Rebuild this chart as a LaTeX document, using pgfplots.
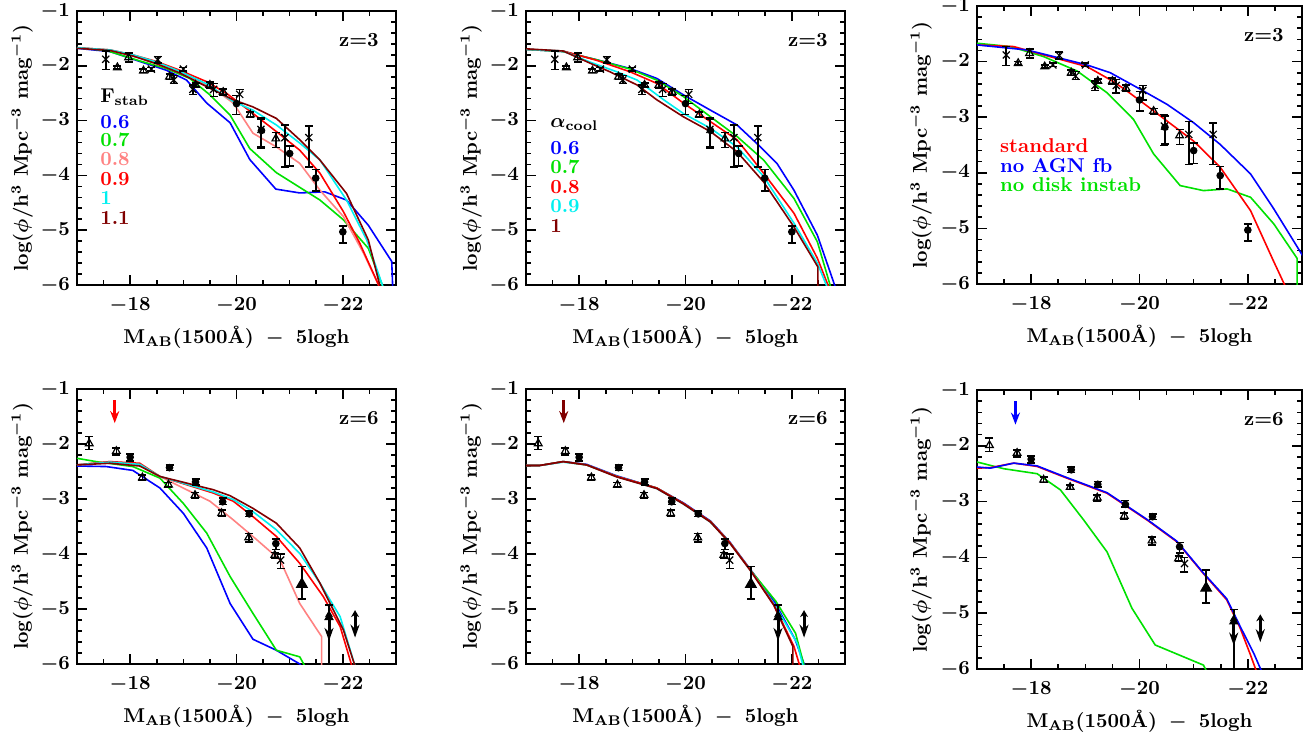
\documentclass[border=0pt]{standalone}
\usepackage{fontspec}
\usepackage{pgfplots}
\usepackage{pgfplotstable}
\pgfplotsset{compat=1.18}
\usetikzlibrary{arrows.meta}
\definecolor{cblue}{RGB}{0,0,255}
\definecolor{cgreen}{RGB}{0,225,0}
\definecolor{csalmon}{RGB}{255,130,130}
\definecolor{cred}{RGB}{255,0,0}
\definecolor{ccyan}{RGB}{0,240,240}
\definecolor{cbrown}{RGB}{128,0,0}

% z=3 observational data: x y err+ err-
\pgfplotstableread{
x y ep em
-17.54 -1.88 0.15 0.19
-18.40 -2.06 0.03 0.03
-18.52 -1.89 0.06 0.06
-18.82 -2.26 0.08 0.06
-19.00 -2.06 0.03 0.03
-19.18 -2.43 0.08 0.09
-19.57 -2.43 0.11 0.13
-20.06 -2.52 0.09 0.17
-20.46 -3.16 0.21 0.35
-20.91 -3.31 0.23 0.54
-21.36 -3.31 0.21 0.54
}\obsThreeX
\pgfplotstableread{
x y ep em
-17.76 -2.03 0.03 0.03
-17.97 -1.85 0.08 0.08
-18.25 -2.09 0.03 0.03
-18.74 -2.20 0.05 0.05
-19.23 -2.35 0.04 0.04
-19.50 -2.35 0.05 0.05
-19.75 -2.48 0.06 0.06
-20.26 -2.89 0.05 0.05
-20.74 -3.33 0.11 0.16
}\obsThreeT
\pgfplotstableread{
x y ep em
-20.00 -2.69 0.15 0.20
-20.47 -3.18 0.20 0.30
-21.00 -3.60 0.14 0.23
-21.49 -4.05 0.16 0.24
-22.00 -5.03 0.11 0.20
}\obsThreeC
% z=6 observational data
\pgfplotstableread{
x y ep em
-17.23 -1.99 0.13 0.11
-17.74 -2.13 0.06 0.07
-18.23 -2.61 0.05 0.05
-18.72 -2.74 0.04 0.04
-19.22 -2.93 0.05 0.06
-19.72 -3.26 0.06 0.06
-20.23 -3.70 0.07 0.08
-20.72 -4.02 0.05 0.05
}\obsSixT
\pgfplotstableread{
x y ep em
-18.00 -2.24 0.06 0.07
-18.74 -2.43 0.05 0.05
-19.23 -2.69 0.05 0.05
-19.74 -3.05 0.07 0.05
-20.24 -3.27 0.05 0.05
-20.74 -3.81 0.08 0.11
}\obsSixC
\pgfplotstableread{
x y ep em
-20.83 -4.11 0.11 0.15
}\obsSixX
\pgfplotstableread{
x y ep em
-21.23 -4.55 0.32 0.27
}\obsSixF
\pgfplotstableread{
x y ep em
-21.74 -5.15 0.22 0.90
}\obsSixL
\pgfplotstableread{
x y u v
-21.74 -5.02 0 -0.56
-22.23 -5.02 0 -0.50
}\obsSixArrows
\pgfplotstableread{
x y u v
-17.71 -1.20 0 -0.42
}\resArrow

\pgfplotsset{
  lf/.style={
    scale only axis, xmin=-23, xmax=-17, x dir=reverse, ymin=-6, ymax=-1,
    xtick={-22,-20,-18},
    minor xtick={-17.5,-18.5,-19,-19.5,-20.5,-21,-21.5,-22.5},
    ytick={-6,-5,-4,-3,-2,-1}, minor y tick num=4,
    tick align=inside, major tick length=5pt, minor tick length=2.5pt,
    axis line style={line width=1pt},
    every tick/.style={black, line width=0.8pt},
    tick label style={font=\fontsize{10}{12}\selectfont\bfseries\boldmath},
    xticklabel style={yshift=-3pt},
    yticklabel style={inner ysep=0pt},
    label style={font=\fontsize{10}{12}\selectfont\bfseries\boldmath},
    xlabel={M$_{\mathbf{AB}}$(1500\AA)\hspace{6pt}$-$\hspace{6pt}5logh},
    ylabel={log($\phi$/h$^{\mathbf{3}}$ Mpc$^{\mathbf{-3}}$ mag$^{\mathbf{-1}}$)},
    xlabel style={at={(axis description cs:0.5,0)}, anchor=center, yshift=-26pt},
    ylabel style={at={(axis description cs:-0.172,0.5)}, anchor=center},
  },
  mdl/.style={line width=0.8pt, no marks},
  obs/.style={only marks, black, mark size=2pt, mark options={line width=0.6pt},
    error bars/y dir=both, error bars/y explicit,
    error bars/error bar style={line width=0.8pt},
    error bars/error mark options={rotate=90, mark size=2pt, line width=0.8pt}},
}
\tikzset{
  lbl/.style={anchor=west, font=\fontsize{10}{12}\selectfont\bfseries\boldmath, inner sep=0pt},
  zl/.style={anchor=east, font=\fontsize{10}{12}\selectfont\bfseries, inner sep=0pt},
}

\newcommand{\obsthree}{%
  \addplot[obs, mark=x, mark size=2.5pt] table[x=x,y=y,y error plus=ep,y error minus=em]{\obsThreeX};
  \addplot[obs, mark=triangle, mark size=2.2pt] table[x=x,y=y,y error plus=ep,y error minus=em]{\obsThreeT};
  \addplot[obs, mark=*, mark size=1.6pt] table[x=x,y=y,y error plus=ep,y error minus=em]{\obsThreeC};
}
\newcommand{\obssix}[1]{%
  \addplot[obs, mark=triangle, mark size=2.2pt] table[x=x,y=y,y error plus=ep,y error minus=em]{\obsSixT};
  \addplot[obs, mark=*, mark size=1.6pt] table[x=x,y=y,y error plus=ep,y error minus=em]{\obsSixC};
  \addplot[obs, mark=x, mark size=2.5pt] table[x=x,y=y,y error plus=ep,y error minus=em]{\obsSixX};
  \addplot[obs, mark=triangle*, mark size=3pt] table[x=x,y=y,y error plus=ep,y error minus=em]{\obsSixF};
  \addplot[obs, mark=triangle*, mark size=2.2pt] table[x=x,y=y,y error plus=ep,y error minus=em]{\obsSixL};
  \addplot[black, line width=1.5pt, {Stealth[length=3.5pt,width=4pt]}-{Stealth[length=6.5pt,width=4.5pt]},
    quiver={u=\thisrow{u}, v=\thisrow{v}}] table[x=x,y=y]{\obsSixArrows};
  \addplot[#1, line width=1.4pt, -{Stealth[length=6pt,width=4.5pt]},
    quiver={u=\thisrow{u}, v=\thisrow{v}}] table[x=x,y=y]{\resArrow};
}

\begin{document}
\begin{tikzpicture}
\useasboundingbox (0,0) rectangle (653.5pt,370.5pt);

% ---------------- Panel 1: F_stab, z=3
\begin{axis}[lf, at={(38.5pt,228pt)}, anchor=south west, width=159.5pt, height=137pt]
\addplot[mdl, cblue] coordinates {(-17,-1.68) (-17.62,-1.74) (-18.18,-1.92) (-18.68,-2.08) (-19.06,-2.26) (-19.44,-2.68) (-19.88,-3.04) (-20.25,-3.71) (-20.74,-4.25) (-21.19,-4.32) (-21.66,-4.30) (-22.07,-4.45) (-22.48,-4.91) (-22.92,-5.57) (-22.94,-6.1)};
\addplot[mdl, cgreen] coordinates {(-17,-1.67) (-17.55,-1.72) (-18.18,-1.91) (-18.68,-2.05) (-19.12,-2.23) (-19.50,-2.53) (-19.88,-2.90) (-20.25,-3.51) (-20.75,-3.95) (-21.57,-4.45) (-22.01,-4.81) (-22.48,-5.33) (-22.78,-6.1)};
\addplot[mdl, csalmon] coordinates {(-17,-1.67) (-17.62,-1.71) (-18.18,-1.86) (-18.68,-2.03) (-19.12,-2.20) (-19.56,-2.41) (-19.94,-2.68) (-20.31,-3.23) (-20.75,-3.48) (-21.19,-3.78) (-21.57,-4.27) (-22.01,-4.75) (-22.39,-5.42) (-22.72,-6.1)};
\addplot[mdl, cred] coordinates {(-17,-1.67) (-17.62,-1.71) (-18.05,-1.80) (-18.49,-1.92) (-18.93,-2.08) (-19.44,-2.29) (-19.81,-2.50) (-20.31,-2.87) (-20.75,-3.20) (-21.19,-3.54) (-21.57,-3.96) (-22.01,-4.66) (-22.32,-5.24) (-22.72,-6.1)};
\addplot[mdl, ccyan] coordinates {(-17,-1.67) (-17.62,-1.71) (-18.05,-1.80) (-18.49,-1.93) (-18.93,-2.10) (-19.44,-2.33) (-19.94,-2.65) (-20.31,-2.81) (-20.75,-3.08) (-21.19,-3.41) (-21.57,-3.72) (-22.07,-4.45) (-22.45,-5.18) (-22.78,-6.1)};
\addplot[mdl, cbrown] coordinates {(-17,-1.68) (-17.62,-1.72) (-18.05,-1.82) (-18.49,-1.96) (-18.93,-2.13) (-19.44,-2.38) (-19.94,-2.62) (-20.31,-2.75) (-20.75,-2.96) (-21.19,-3.35) (-21.57,-3.72) (-22.07,-4.33) (-22.48,-5.18) (-22.72,-6.1)};
\obsthree
\node[lbl] at (axis cs:-17.43,-2.57) {F$_{\mathbf{stab}}$};
\node[lbl, text=cblue] at (axis cs:-17.43,-3.03) {0.6};
\node[lbl, text=cgreen] at (axis cs:-17.43,-3.36) {0.7};
\node[lbl, text=csalmon] at (axis cs:-17.43,-3.71) {0.8};
\node[lbl, text=cred] at (axis cs:-17.43,-4.06) {0.9};
\node[lbl, text=ccyan] at (axis cs:-17.43,-4.41) {1};
\node[lbl, text=cbrown] at (axis cs:-17.43,-4.77) {1.1};
\node[zl] at (rel axis cs:0.947,0.894) {z=3};
\end{axis}

% ---------------- Panel 2: alpha_cool, z=3
\begin{axis}[lf, at={(263pt,228pt)}, anchor=south west, width=159.5pt, height=137pt]
\addplot[mdl, cblue] coordinates {(-17,-1.70) (-17.70,-1.74) (-18.33,-1.89) (-18.96,-2.05) (-19.46,-2.23) (-19.96,-2.53) (-20.47,-2.81) (-20.97,-3.08) (-21.41,-3.48) (-21.72,-3.78) (-22.04,-4.27) (-22.48,-5.09) (-22.84,-6.1)};
\addplot[mdl, cgreen] coordinates {(-17,-1.70) (-17.70,-1.74) (-18.33,-1.89) (-18.96,-2.06) (-19.46,-2.26) (-19.96,-2.56) (-20.47,-2.93) (-20.97,-3.29) (-21.47,-3.72) (-22.04,-4.42) (-22.48,-5.21) (-22.75,-6.1)};
\addplot[mdl, cred] coordinates {(-17,-1.70) (-17.70,-1.73) (-18.33,-1.90) (-18.96,-2.11) (-19.46,-2.32) (-19.96,-2.68) (-20.47,-3.02) (-20.97,-3.35) (-21.47,-3.96) (-22.04,-4.69) (-22.48,-5.51) (-22.72,-6.1)};
\addplot[mdl, ccyan] coordinates {(-17,-1.70) (-17.70,-1.73) (-18.20,-1.93) (-18.71,-2.11) (-19.09,-2.26) (-19.59,-2.62) (-19.96,-2.87) (-20.47,-3.14) (-20.97,-3.48) (-21.47,-4.02) (-22.04,-4.87) (-22.48,-5.60) (-22.69,-6.1)};
\addplot[mdl, cbrown] coordinates {(-17,-1.69) (-17.70,-1.73) (-18.20,-1.95) (-18.58,-2.11) (-19.09,-2.35) (-19.46,-2.62) (-19.96,-2.93) (-20.47,-3.20) (-20.97,-3.57) (-21.47,-4.12) (-22.04,-4.94) (-22.49,-5.67) (-22.49,-6.1)};
\obsthree
\node[lbl] at (axis cs:-17.45,-3.08) {$\alpha_{\mathbf{cool}}$};
\node[lbl, text=cblue] at (axis cs:-17.45,-3.50) {0.6};
\node[lbl, text=cgreen] at (axis cs:-17.45,-3.85) {0.7};
\node[lbl, text=cred] at (axis cs:-17.45,-4.21) {0.8};
\node[lbl, text=ccyan] at (axis cs:-17.45,-4.56) {0.9};
\node[lbl, text=cbrown] at (axis cs:-17.45,-4.92) {1};
\node[zl] at (rel axis cs:0.947,0.894) {z=3};
\end{axis}

% ---------------- Panel 3: variants, z=3
\begin{axis}[lf, at={(488.5pt,228.5pt)}, anchor=south west, width=162.5pt, height=139pt]
\addplot[mdl, cgreen] coordinates {(-17,-1.67) (-17.62,-1.73) (-18.23,-1.91) (-18.85,-2.17) (-19.40,-2.56) (-19.89,-3.04) (-20.26,-3.66) (-20.75,-4.23) (-21.18,-4.32) (-21.62,-4.29) (-22.05,-4.44) (-22.48,-4.92) (-22.91,-5.54) (-22.91,-6.1)};
\addplot[mdl, cred] coordinates {(-17,-1.70) (-17.68,-1.73) (-18.23,-1.88) (-19.03,-2.09) (-19.52,-2.36) (-19.77,-2.53) (-20.02,-2.71) (-20.51,-3.07) (-21.00,-3.43) (-21.49,-3.90) (-22.05,-4.68) (-22.48,-5.60) (-22.72,-6.1)};
\addplot[mdl, cblue] coordinates {(-17,-1.70) (-17.92,-1.79) (-18.54,-1.94) (-19.03,-2.06) (-19.46,-2.20) (-20.02,-2.50) (-20.51,-2.77) (-21.00,-3.10) (-21.49,-3.49) (-22.05,-4.02) (-22.48,-4.65) (-23.05,-5.55)};
\obsthree
\node[lbl, text=cred] at (axis cs:-17.42,-3.52) {standard};
\node[lbl, text=cblue] at (axis cs:-17.42,-3.87) {no AGN fb};
\node[lbl, text=cgreen] at (axis cs:-17.42,-4.21) {no disk instab};
\node[zl] at (rel axis cs:0.945,0.896) {z=3};
\end{axis}

% ---------------- Panel 4: F_stab, z=6
\begin{axis}[lf, at={(38.5pt,38.5pt)}, anchor=south west, width=159.5pt, height=137.5pt]
\addplot[mdl, cblue] coordinates {(-17,-2.40) (-17.55,-2.41) (-18.05,-2.48) (-18.56,-2.80) (-19.00,-3.26) (-19.44,-3.89) (-19.88,-4.90) (-20.31,-5.55) (-20.75,-5.75) (-21.19,-6.0) (-21.25,-6.1)};
\addplot[mdl, cgreen] coordinates {(-17,-2.26) (-17.36,-2.32) (-18.05,-2.41) (-18.56,-2.62) (-19.00,-3.08) (-19.44,-3.62) (-19.88,-4.41) (-20.31,-5.08) (-20.75,-5.75) (-21.19,-5.87) (-21.32,-6.1)};
\addplot[mdl, csalmon] coordinates {(-17,-2.38) (-17.62,-2.32) (-18.18,-2.38) (-18.56,-2.59) (-19.06,-2.83) (-19.50,-3.04) (-19.94,-3.38) (-20.38,-3.74) (-20.82,-4.11) (-21.19,-4.90) (-21.60,-5.50) (-21.60,-6.1)};
\addplot[mdl, cred] coordinates {(-17,-2.38) (-17.62,-2.32) (-18.18,-2.35) (-18.56,-2.59) (-19.06,-2.74) (-19.56,-2.89) (-19.94,-3.04) (-20.31,-3.32) (-20.75,-3.68) (-21.19,-4.17) (-21.63,-4.77) (-21.95,-5.32) (-22.19,-6.1)};
\addplot[mdl, ccyan] coordinates {(-17,-2.38) (-17.62,-2.33) (-18.18,-2.37) (-18.56,-2.59) (-19.06,-2.73) (-19.56,-2.87) (-19.94,-3.01) (-20.31,-3.23) (-20.75,-3.56) (-21.19,-3.99) (-21.57,-4.53) (-21.95,-5.14) (-22.25,-6.1)};
\addplot[mdl, cbrown] coordinates {(-17,-2.38) (-17.62,-2.35) (-18.18,-2.40) (-18.56,-2.59) (-19.06,-2.71) (-19.56,-2.83) (-19.88,-2.94) (-20.31,-3.17) (-20.75,-3.44) (-21.19,-3.89) (-21.57,-4.53) (-22.01,-5.38) (-22.25,-6.1)};
\obssix{cred}
\node[zl] at (rel axis cs:0.947,0.895) {z=6};
\end{axis}

% ---------------- Panel 5: alpha_cool, z=6
\begin{axis}[lf, at={(263pt,38.5pt)}, anchor=south west, width=159.5pt, height=137.5pt]
\addplot[mdl, cblue] coordinates {(-17,-2.39) (-17.26,-2.39) (-17.70,-2.32) (-18.14,-2.37) (-18.71,-2.58) (-19.46,-2.80) (-19.96,-3.07) (-20.47,-3.40) (-20.84,-3.79) (-21.22,-4.28) (-21.68,-4.88) (-22.06,-5.55) (-22.27,-6.1)};
\addplot[mdl, cgreen] coordinates {(-17,-2.39) (-17.26,-2.39) (-17.70,-2.32) (-18.14,-2.38) (-18.71,-2.59) (-19.46,-2.80) (-19.96,-3.08) (-20.47,-3.41) (-20.84,-3.80) (-21.22,-4.29) (-21.70,-4.86) (-22.07,-5.44) (-22.25,-6.1)};
\addplot[mdl, ccyan] coordinates {(-17,-2.39) (-17.26,-2.39) (-17.70,-2.33) (-18.14,-2.38) (-18.71,-2.59) (-19.46,-2.81) (-19.96,-3.09) (-20.47,-3.42) (-20.84,-3.80) (-21.22,-4.29) (-21.66,-4.90) (-22.10,-5.62) (-22.23,-6.1)};
\addplot[mdl, cred] coordinates {(-17,-2.39) (-17.26,-2.39) (-17.70,-2.32) (-18.14,-2.38) (-18.71,-2.59) (-19.46,-2.80) (-19.96,-3.08) (-20.47,-3.41) (-20.84,-3.80) (-21.22,-4.29) (-21.66,-4.92) (-22.04,-5.68) (-22.17,-6.1)};
\addplot[mdl, cbrown] coordinates {(-17,-2.39) (-17.26,-2.39) (-17.70,-2.32) (-18.14,-2.38) (-18.71,-2.60) (-19.46,-2.81) (-19.96,-3.09) (-20.47,-3.42) (-20.84,-3.81) (-21.22,-4.30) (-21.66,-4.93) (-22.02,-5.68) (-22.02,-6.1)};
\obssix{cbrown}
\node[zl] at (rel axis cs:0.947,0.895) {z=6};
\end{axis}

% ---------------- Panel 6: variants, z=6
\begin{axis}[lf, at={(488.5pt,36pt)}, anchor=south west, width=162.5pt, height=139.5pt]
\addplot[mdl, cgreen] coordinates {(-17,-2.29) (-17.49,-2.41) (-18.11,-2.50) (-18.54,-2.79) (-18.97,-3.33) (-19.40,-3.90) (-19.86,-4.91) (-20.29,-5.57) (-21.18,-5.93) (-21.27,-6.1)};
\addplot[mdl, cred] coordinates {(-17,-2.40) (-17.25,-2.39) (-17.68,-2.31) (-18.11,-2.37) (-18.66,-2.58) (-19.40,-2.85) (-20.14,-3.33) (-20.69,-3.72) (-21.18,-4.29) (-21.61,-4.76) (-21.86,-5.27) (-22.05,-5.75) (-22.18,-6.1)};
\addplot[mdl, cblue] coordinates {(-17,-2.38) (-17.25,-2.40) (-17.68,-2.31) (-18.11,-2.36) (-18.66,-2.57) (-19.40,-2.84) (-20.14,-3.32) (-20.69,-3.71) (-21.18,-4.28) (-21.61,-4.74) (-21.86,-5.24) (-22.11,-5.72) (-22.28,-6.1)};
\obssix{cblue}
\node[zl] at (rel axis cs:0.945,0.896) {z=6};
\end{axis}
\end{tikzpicture}
\end{document}
